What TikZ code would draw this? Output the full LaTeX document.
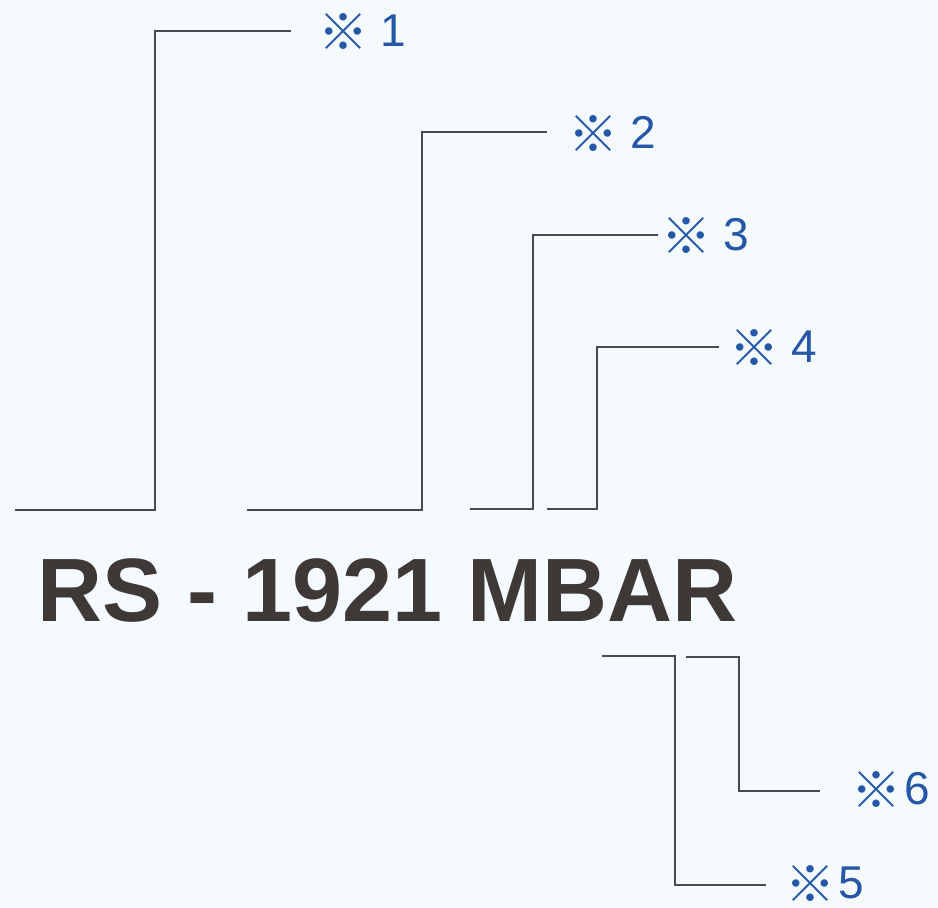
\documentclass[tikz,border=0pt]{standalone}
\usepackage{fontspec}
\setmainfont{Liberation Sans}
\newfontfamily\cjkfont{Noto Sans CJK JP}
\usetikzlibrary{positioning}
\definecolor{PageBg}{HTML}{F5FAFE}
\definecolor{LeaderInk}{HTML}{4A4A4A}
\definecolor{NoteBlue}{HTML}{2457A8}
\definecolor{CodeInk}{HTML}{3E3937}
\newcommand{\refmark}{\raisebox{-4pt}[0pt][0pt]{\cjkfont\fontsize{50}{50}\selectfont ※}}

\begin{document}
\begin{tikzpicture}[x=1pt, y=-1pt,
  leader/.style={LeaderInk, line width=1.3pt},
  note/.style={NoteBlue, font=\fontsize{46}{48}\selectfont, inner sep=0pt}]
  \fill[PageBg] (0,0) rectangle (938,908);
  \useasboundingbox (0,0) rectangle (938,908);
  \node[CodeInk, font=\fontsize{90}{94}\selectfont\bfseries, inner sep=0pt, anchor=base west] (code) at (37,621) {RS - 1921 MBAR};
  % leaders above the code
  \foreach \i/\xs/\ys/\xk/\yk/\xe/\gap in {1/15/510/155/31/291/27, 2/247/510/422/132/547/21, 3/470/509/533/235/658/3, 4/547/509/597/347/719/10}{
    \coordinate (s\i) at (\xs,\ys);
    \coordinate (k\i) at (\xk,\yk);
    \coordinate (e\i) at (\xe,\yk);
    \node[note, right=\gap pt of e\i] (n\i) {\refmark\ \i};
    \draw[leader] (s\i) -| (k\i) -- (e\i);
  }
  % leaders below the code
  \foreach \i/\xs/\ys/\xk/\yk/\xe/\gap in {5/602/656/675/885/766/19, 6/686/657/739/791/820/31}{
    \coordinate (s\i) at (\xs,\ys);
    \coordinate (k\i) at (\xk,\yk);
    \coordinate (e\i) at (\xe,\yk);
    \node[note, right=\gap pt of e\i, yshift=2pt] (n\i) {\refmark\kern3pt\i};
    \draw[leader] (s\i) -| (k\i) -- (e\i);
  }
\end{tikzpicture}
\end{document}
